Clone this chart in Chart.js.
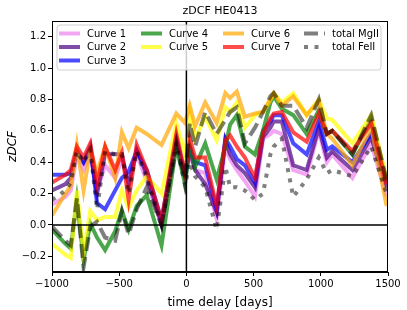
<!DOCTYPE html>
<html>
<head>
<meta charset="utf-8">
<script src="https://cdn.jsdelivr.net/npm/chart.js@4"></script>
<style>
  html, body { margin: 0; padding: 0; background: #fff; }
  #wrap { width: 407px; height: 310px; }
</style>
</head>
<body>
<div id="wrap"><canvas id="zdcfChart" width="407" height="310"></canvas></div>
<script>
// time lags (days) shared by all curves
const lags = [-1000, -900, -860, -815, -765, -715, -665, -605, -530, -480, -430, -370, -295, -185, -75, -10,
  25, 65, 140, 225, 290, 325, 375, 435, 510, 570, 625, 650, 710, 795, 895, 985, 1045, 1085, 1235, 1375, 1490];

const curve1 = [0.13, 0.18, 0.22, 0.45, 0.35, 0.45, 0.22, 0.38, 0.30, 0.42, 0.28, 0.45, 0.28, 0.00, 0.50, 0.30,
  0.45, 0.35, 0.33, 0.04, 0.50, 0.42, 0.35, 0.28, 0.18, 0.55, 0.58, 0.60, 0.58, 0.35, 0.32, 0.60, 0.40, 0.45, 0.30, 0.52, 0.18];
const curve2 = [0.22, 0.26, 0.30, 0.47, 0.40, 0.48, 0.20, 0.45, 0.45, 0.45, 0.25, 0.48, 0.32, 0.00, 0.55, 0.32,
  0.48, 0.35, 0.26, 0.08, 0.54, 0.45, 0.38, 0.33, 0.24, 0.56, 0.62, 0.66, 0.66, 0.38, 0.35, 0.62, 0.43, 0.47, 0.35, 0.56, 0.24];
const curve3 = [0.32, 0.32, 0.33, 0.47, 0.40, 0.50, 0.14, 0.10, 0.22, 0.30, 0.34, 0.47, 0.35, 0.03, 0.55, 0.30,
  0.50, 0.40, 0.38, 0.10, 0.55, 0.50, 0.42, 0.38, 0.27, 0.60, 0.66, 0.70, 0.70, 0.52, 0.45, 0.66, 0.48, 0.50, 0.40, 0.58, 0.28];
const curve4 = [-0.03, -0.12, -0.15, 0.16, -0.22, 0.01, -0.08, -0.16, -0.04, 0.09, -0.03, 0.12, 0.19, -0.13, 0.50, 0.26,
  0.50, 0.37, 0.52, 0.29, 0.50, 0.64, 0.70, 0.50, 0.45, 0.60, 0.78, 0.82, 0.74, 0.70, 0.58, 0.73, 0.58, 0.60, 0.45, 0.68, 0.28];
const curve5 = [-0.12, -0.19, -0.21, 0.22, -0.18, 0.09, 0.03, 0.05, 0.05, 0.22, 0.11, 0.22, 0.31, 0.20, 0.65, 0.45,
  0.72, 0.55, 0.69, 0.54, 0.75, 0.72, 0.78, 0.62, 0.70, 0.72, 0.80, 0.84, 0.78, 0.84, 0.70, 0.80, 0.68, 0.67, 0.52, 0.70, 0.29];
const curve6 = [0.06, 0.20, 0.25, 0.51, 0.22, 0.48, 0.33, 0.50, 0.30, 0.59, 0.49, 0.62, 0.58, 0.51, 0.71, 0.65,
  0.76, 0.63, 0.78, 0.65, 0.84, 0.81, 0.85, 0.69, 0.71, 0.72, 0.80, 0.84, 0.76, 0.82, 0.70, 0.79, 0.58, 0.55, 0.38, 0.62, 0.12];
const curve7 = [0.27, 0.32, 0.35, 0.50, 0.43, 0.52, 0.26, 0.50, 0.35, 0.46, 0.16, 0.51, 0.35, 0.03, 0.58, 0.33,
  0.55, 0.43, 0.43, 0.12, 0.54, 0.57, 0.50, 0.43, 0.30, 0.58, 0.68, 0.71, 0.72, 0.59, 0.53, 0.71, 0.58, 0.60, 0.47, 0.65, 0.26];
const totalMgII = [-0.01, -0.10, -0.13, 0.17, -0.27, -0.01, 0.02, -0.08, -0.10, 0.09, -0.06, 0.10, 0.24, 0.00, 0.50, 0.30,
  0.65, 0.50, 0.72, 0.58, 0.67, 0.72, 0.75, 0.52, 0.62, 0.72, 0.82, 0.84, 0.76, 0.76, 0.62, 0.80, 0.58, 0.60, 0.45, 0.70, 0.28];
const totalFeII = [0.16, 0.22, 0.27, 0.47, 0.40, 0.48, 0.10, 0.47, 0.45, 0.45, 0.20, 0.47, 0.30, 0.00, 0.52, 0.25,
  0.40, 0.31, 0.24, -0.03, 0.37, 0.24, 0.24, 0.22, 0.16, 0.20, 0.45, 0.50, 0.55, 0.18, 0.29, 0.43, 0.33, 0.35, 0.31, 0.50, 0.20];

const seriesNames = ['Curve 1', 'Curve 2', 'Curve 3', 'Curve 4', 'Curve 5', 'Curve 6', 'Curve 7', 'total MgII', 'total FeII'];
const seriesValues = [curve1, curve2, curve3, curve4, curve5, curve6, curve7, totalMgII, totalFeII];
const seriesColors = [
  'rgba(238,130,238,0.7)', 'rgba(75,0,130,0.7)', 'rgba(0,0,255,0.7)', 'rgba(0,128,0,0.7)',
  'rgba(255,255,0,0.7)', 'rgba(255,165,0,0.7)', 'rgba(255,0,0,0.7)', 'rgba(0,0,0,0.5)', 'rgba(0,0,0,0.5)'
];
const seriesDash = [[], [], [], [], [], [], [], [14, 6], [4, 6.5]];

const xTicks = [-1000, -500, 0, 500, 1000, 1500];
const yTicks = [-0.2, 0.0, 0.2, 0.4, 0.6, 0.8, 1.0, 1.2];

const FONT = "'DejaVu Sans', sans-serif";

const datasets = seriesNames.map((name, i) => ({
  label: name,
  data: lags.map((x, j) => ({ x: x, y: seriesValues[i][j] })),
  borderColor: seriesColors[i],
  backgroundColor: seriesColors[i],
  borderWidth: 4,
  borderDash: seriesDash[i],
  borderCapStyle: 'butt',
  pointRadius: 0,
  tension: 0,
  fill: false,
  order: seriesNames.length - i   // later series drawn on top, like matplotlib
}));

// title, zero lines, axes frame and a 4-column legend box
const extras = {
  id: 'extras',
  afterDatasetsDraw(chart) {
    const { ctx, chartArea: a, scales } = chart;
    const x0 = scales.x.getPixelForValue(0);
    const y0 = scales.y.getPixelForValue(0);
    ctx.save();
    ctx.strokeStyle = '#000';
    ctx.lineWidth = 1.5;
    ctx.beginPath();
    ctx.moveTo(a.left, y0); ctx.lineTo(a.right, y0);
    ctx.moveTo(x0, a.top); ctx.lineTo(x0, a.bottom);
    ctx.stroke();
    // full box around the plot
    ctx.lineWidth = 1;
    ctx.strokeRect(a.left + 0.5, a.top + 0.5, a.right - a.left - 1, a.bottom - a.top - 1);
    ctx.restore();
  },
  afterDraw(chart) {
    const { ctx, chartArea: a } = chart;
    ctx.save();
    // title
    ctx.fillStyle = '#000';
    ctx.font = '11px ' + FONT;
    ctx.textAlign = 'center';
    ctx.textBaseline = 'middle';
    ctx.fillText('zDCF HE0413', (a.left + a.right) / 2, 11);

    // legend frame
    const bx = 57, by = 25, bw = 324, bh = 45, r = 3;
    ctx.beginPath();
    ctx.moveTo(bx + r, by);
    ctx.arcTo(bx + bw, by, bx + bw, by + bh, r);
    ctx.arcTo(bx + bw, by + bh, bx, by + bh, r);
    ctx.arcTo(bx, by + bh, bx, by, r);
    ctx.arcTo(bx, by, bx + bw, by, r);
    ctx.closePath();
    ctx.fillStyle = 'rgba(255,255,255,0.8)';
    ctx.fill();
    ctx.strokeStyle = '#d0d0d0';
    ctx.lineWidth = 1;
    ctx.stroke();

    // entries: 3, 2, 2, 2 per column
    const cols = [[0, 1, 2], [3, 4], [5, 6], [7, 8]];
    const colX = [59, 141, 223, 304];
    const rowY = [33.5, 47, 60.5];
    ctx.font = '10px ' + FONT;
    ctx.textAlign = 'left';
    chart.data.datasets.forEach((ds, i) => {
      const c = cols.findIndex(list => list.includes(i));
      const rIdx = cols[c].indexOf(i);
      const lx = colX[c], ly = rowY[rIdx];
      ctx.strokeStyle = ds.borderColor;
      ctx.lineWidth = ds.borderWidth;
      ctx.lineCap = 'butt';
      ctx.setLineDash(ds.borderDash);
      ctx.beginPath();
      ctx.moveTo(lx, ly); ctx.lineTo(lx + 21, ly);
      ctx.stroke();
      ctx.setLineDash([]);
      ctx.fillStyle = '#000';
      ctx.fillText(ds.label, lx + 28, ly + 0.5);
    });
    ctx.restore();
  }
};

const ctx = document.getElementById('zdcfChart').getContext('2d');
new Chart(ctx, {
  type: 'line',
  data: { datasets: datasets },
  options: {
    responsive: false,
    animation: false,
    layout: { padding: { top: 21, right: 19, left: 0, bottom: 0 } },
    plugins: { legend: { display: false }, title: { display: false }, tooltip: { enabled: false } },
    scales: {
      x: {
        type: 'linear',
        min: -1000,
        max: 1500,
        afterBuildTicks: scale => { scale.ticks = xTicks.map(v => ({ value: v })); },
        afterFit: scale => { scale.height = 38; },
        grid: { drawOnChartArea: false, drawTicks: true, tickLength: 4, tickWidth: 1, color: '#000' },
        border: { display: true, color: '#000', width: 1 },
        ticks: {
          color: '#000',
          font: { family: FONT, size: 10 },
          padding: 2,
          maxRotation: 0,
          callback: v => String(v).replace('-', '\u2212')
        },
        title: {
          display: true,
          text: 'time delay [days]',
          color: '#000',
          font: { family: FONT, size: 12 },
          padding: { top: 1, bottom: 0 }
        }
      },
      y: {
        type: 'linear',
        min: -0.3,
        max: 1.3,
        afterBuildTicks: scale => { scale.ticks = yTicks.map(v => ({ value: v })); },
        afterFit: scale => { scale.width = 52; },
        grid: { drawOnChartArea: false, drawTicks: true, tickLength: 4, tickWidth: 1, color: '#000' },
        border: { display: true, color: '#000', width: 1 },
        ticks: {
          color: '#000',
          font: { family: FONT, size: 10 },
          padding: 2,
          callback: v => v.toFixed(1).replace('-', '\u2212')
        },
        title: {
          display: true,
          text: 'zDCF',
          color: '#000',
          font: { family: FONT, size: 12, style: 'italic' },
          padding: { top: 6, bottom: 4 }
        }
      }
    }
  },
  plugins: [extras]
});
</script>
</body>
</html>
